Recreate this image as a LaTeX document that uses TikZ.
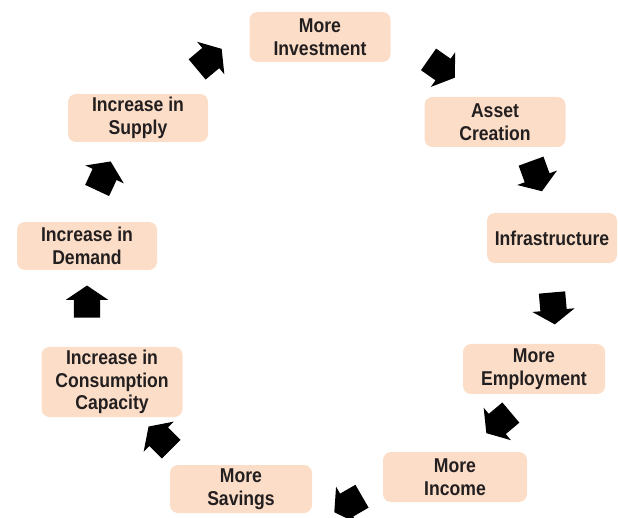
\documentclass[tikz,border=0pt]{standalone}
\usepackage{fontspec}
\setmainfont{Liberation Sans}[FakeStretch=0.88]
\usepackage{tikz}
\usetikzlibrary{shapes.arrows, positioning}
\usepackage{xcolor}
\definecolor{cyclepeach}{RGB}{252, 222, 200}
\definecolor{cycletext}{RGB}{35, 31, 32}
\tikzstyle{stage} = [rectangle, rounded corners=8pt, minimum width=141pt, minimum height=50pt, align=center, fill=cyclepeach, text=cycletext, font=\fontsize{20}{22.5}\selectfont\bfseries, inner sep=2pt]
\tikzstyle{blockarrow} = [single arrow, fill=black, draw=none, inner xsep=0pt, inner ysep=13pt, minimum width=0pt, minimum height=32pt, single arrow head extend=8pt, single arrow tip angle=112, single arrow head indent=0pt]

\begin{document}
\begin{tikzpicture}[x=1pt, y=1pt]
\useasboundingbox (0,0) rectangle (618,517);
% Cycle steps
\node[stage] (invest) at (320,480) {More\\Investment};
\node[stage] (asset) at (495,395) {Asset\\Creation};
\node[stage, minimum width=130pt] (infra) at (552,279) {Infrastructure};
\node[stage, minimum width=142pt] (employ) at (534,148) {More\\Employment};
\node[stage, minimum width=144pt] (income) at (455,40) {More\\Income};
\node[stage, minimum width=142pt, minimum height=48pt] (savings) at (241,28) {More\\Savings};
\node[stage, minimum height=70pt] (consume) at (112,135) {Increase in\\Consumption\\Capacity};
\node[stage, minimum width=140pt, minimum height=48pt] (demand) at (87,271) {Increase in\\Demand};
\node[stage, minimum width=140pt, minimum height=48pt] (supply) at (138,399) {Increase in\\Supply};

% Arrows
\node[blockarrow, rotate=40] (a1) at (206,455) {};
\node[blockarrow, rotate=-35] (a2) at (438,451) {};
\node[blockarrow, rotate=-70] (a3) at (535,345) {};
\node[blockarrow, rotate=-85] (a4) at (553,213) {};
\node[blockarrow, rotate=-140] (a5) at (502,97) {};
\node[blockarrow, rotate=-150] (a6) at (352,15) {};
\node[blockarrow, rotate=135] (a7) at (163,76) {};
\node[blockarrow, rotate=90] (a8) at (87,211) {};
\node[blockarrow, rotate=65] (a9) at (102,337) {};
\end{tikzpicture}
\end{document}
